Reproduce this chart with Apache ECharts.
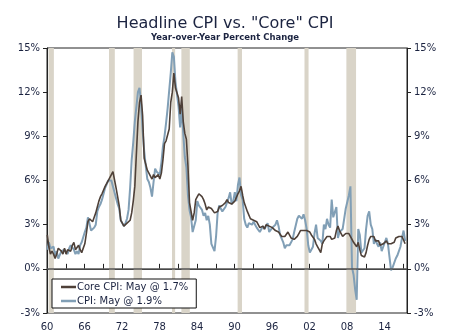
<!DOCTYPE html>
<html>
<head>
<meta charset="utf-8">
<script src="https://cdn.jsdelivr.net/npm/echarts@6/dist/echarts.min.js"></script>
<style>html,body{margin:0;padding:0;background:#fff}#c{width:450px;height:336px}</style>
</head>
<body>
<div id="c"></div>
<script>
// Quarterly year-over-year % change, starting 1960 Q1
const startYear = 1960;
const cpi = [
  1.3,1.8,1.4,1.4, 1.5,0.9,1.2,0.7, 0.7,1.2,1.2,1.3, 1.3,1.0,1.4,1.6, 1.6,1.3,1.0,1.2,
  1.0,1.6,1.8,1.9, 2.5,2.8,3.5,3.5, 2.6,2.7,2.8,3.0, 3.9,4.2,4.4,4.7, 4.8,5.5,5.6,6.0,
  6.1,6.0,5.6,5.6, 4.8,4.4,4.1,3.3, 3.4,2.9,3.1,3.4, 4.0,5.5,7.4,8.6, 10.0,11.0,12.0,12.3,
  11.2,9.4,8.0,7.0, 6.1,5.9,5.5,4.9, 5.9,6.8,6.6,6.7, 6.4,7.2,8.3,9.0, 9.9,10.9,12.1,13.3,
  14.7,14.4,12.7,12.6, 11.0,9.6,10.9,9.2, 7.6,6.9,5.0,4.0, 3.5,2.5,2.6,3.3, 4.6,4.3,4.2,4.0,
  3.6,3.8,3.3,3.6, 3.0,1.7,1.6,1.2, 2.2,3.8,4.3,4.4, 3.9,3.9,4.2,4.3, 4.8,5.2,4.4,4.6,
  5.2,4.6,5.7,6.2, 5.0,4.7,3.4,3.0, 2.8,3.1,3.0,3.0, 3.2,3.0,2.8,2.7, 2.5,2.4,2.9,2.7,
  2.9,3.1,2.5,2.6, 2.8,2.8,3.0,3.3, 2.9,2.3,2.2,1.8, 1.4,1.6,1.5,1.6, 1.7,2.0,2.5,2.6,
  3.4,3.6,3.5,3.4, 3.7,3.3,2.7,1.6, 1.1,1.2,1.5,2.4, 3.0,2.1,2.2,1.9, 1.7,3.0,2.7,3.4,
  3.0,2.8,4.7,3.5, 3.6,4.2,2.1,2.5, 2.4,2.7,2.8,4.1, 4.0,5.0,5.6,0.1, -0.4,-1.4,-2.1,2.7,
  2.3,1.1,1.1,1.4, 2.7,3.6,3.9,3.0, 2.7,1.7,2.0,1.7, 1.5,1.8,1.2,1.5, 1.5,2.1,1.7,0.8,
  -0.1,0.1,0.0,0.7, 0.9,1.0,1.5,2.1, 2.6,1.9
];
const core = [
  2.3,1.5,1.0,1.2, 1.0,0.7,1.0,1.4, 1.4,1.2,1.0,1.4, 1.0,1.3,1.4,1.2, 1.6,1.8,1.3,1.2,
  1.6,1.3,1.1,1.1, 1.7,2.4,3.2,3.4, 3.4,3.2,3.5,3.8, 4.2,4.6,4.9,5.1, 5.0,5.6,5.6,6.0,
  6.2,6.4,6.6,6.5, 5.5,4.9,4.3,3.3, 3.1,2.9,3.0,3.1, 3.0,3.3,3.8,4.6, 5.6,7.8,10.0,11.3,
  11.8,10.4,7.5,7.1, 6.7,6.5,6.4,6.1, 6.4,6.2,6.3,6.4, 6.1,6.5,7.4,8.5, 8.7,8.8,9.5,11.3,
  12.0,13.3,12.3,12.2, 11.6,10.5,11.7,10.0, 9.2,8.8,7.0,4.5, 4.6,3.3,3.8,4.7, 4.9,5.1,5.1,4.9,
  4.7,4.4,4.0,4.2, 4.1,4.1,4.0,3.8, 3.8,3.9,4.2,4.2, 4.3,4.4,4.5,4.7, 4.5,4.4,4.4,4.5,
  4.6,4.7,5.1,5.3, 5.6,5.0,4.5,4.4, 3.9,3.8,3.4,3.4, 3.3,3.4,3.2,3.1, 2.8,2.8,2.9,2.7,
  3.0,3.0,2.9,3.0, 2.8,2.7,2.6,2.6, 2.5,2.5,2.2,2.2, 2.2,2.2,2.5,2.4, 2.1,2.1,2.0,1.9,
  2.2,2.4,2.6,2.6, 2.6,2.7,2.6,2.7, 2.5,2.3,2.2,2.0, 1.7,1.5,1.3,1.1, 1.7,1.9,2.0,2.2,
  2.2,2.2,2.0,2.1, 2.1,2.6,2.9,2.6, 2.7,2.2,2.1,2.4, 2.3,2.4,2.5,2.0, 1.8,1.7,1.5,1.8,
  1.3,0.9,0.8,0.8, 1.1,1.6,2.0,2.2, 2.2,2.2,1.9,1.9, 1.9,1.6,1.7,1.7, 1.6,1.9,1.7,1.6,
  1.7,1.8,1.8,2.1, 2.2,2.2,2.2,2.2, 2.2,1.7
];
// NBER recessions (year fractions)
const recessions = [
  [1960.25,1961.1],[1969.92,1970.85],[1973.85,1975.2],[1980.0,1980.5],
  [1981.5,1982.85],[1990.5,1991.2],[2001.2,2001.85],[2007.9,2009.45]
];
const yTicks = [-3,0,3,6,9,12,15];
const xLabelYears = [1960,1966,1972,1978,1984,1990,1996,2002,2008,2014];
const coreName = 'Core CPI: May @ 1.7%';
const cpiName = 'CPI: May @ 1.9%';

const toPairs = arr => arr.map((v,i) => [startYear + i/4 + 0.05, v]);
const txt = '#1b2340';
const font = 'DejaVu Sans';

const chart = echarts.init(document.getElementById('c'), null, {renderer:'canvas'});
const yAxisBase = {
  type:'value', min:yTicks[0], max:yTicks[yTicks.length-1], interval:3,
  axisLine:{show:true, lineStyle:{color:'#222', width:1}},
  axisTick:{show:true, length:4, lineStyle:{color:'#222'}},
  splitLine:{show:false},
  axisLabel:{formatter: v => v + '%', color:txt, fontFamily:font, fontSize:10, margin:7}
};
chart.setOption({
  animation:false,
  title:{
    text:'Headline CPI vs. "Core" CPI',
    subtext:'Year-over-Year Percent Change',
    left:'center', top:11, itemGap:1,
    textStyle:{fontFamily:font, fontSize:16, fontWeight:'normal', color:txt},
    subtextStyle:{fontFamily:font, fontSize:8.5, fontWeight:'bold', color:txt}
  },
  grid:{left:47, right:43, top:48, bottom:23, show:true, borderColor:'#222', borderWidth:1},
  legend:{
    orient:'vertical', left:52, top:279,
    data:[
      {name:coreName, icon:'rect', itemStyle:{color:'#4e4038'}},
      {name:cpiName, icon:'rect', itemStyle:{color:'#819fb6'}}
    ],
    backgroundColor:'#fff', borderColor:'#111', borderWidth:1,
    padding:[3,8,2,9], itemGap:4, itemWidth:15, itemHeight:2.5,
    textStyle:{fontFamily:font, fontSize:10, color:txt, padding:[0,0,0,-4]}
  },
  xAxis:{
    type:'value', min:1960, max:2017.6, interval:3,
    axisLine:{show:true, lineStyle:{color:'#222'}},
    axisTick:{show:true, inside:true, length:5, lineStyle:{color:'#222'}},
    splitLine:{show:false},
    axisLabel:{
      color:txt, fontFamily:font, fontSize:10, margin:9, showMaxLabel:false,
      formatter: v => {
        const y = Math.round(v);
        if (Math.abs(v - y) > 1e-6 || xLabelYears.indexOf(y) < 0) return '';
        return String(y % 100).padStart(2,'0');
      }
    }
  },
  yAxis:[
    Object.assign({}, yAxisBase, {position:'left'}),
    Object.assign({}, yAxisBase, {position:'right'})
  ],
  series:[
    {
      name:'rec', type:'line', data:[], silent:true, z:1,
      markArea:{
        silent:true,
        itemStyle:{color:'#d9d4c8'},
        data: recessions.map(r => [{xAxis:r[0]},{xAxis:r[1]}])
      },
      markLine:{
        silent:true, symbol:'none', label:{show:false},
        lineStyle:{color:'#555', width:1.5, type:'solid'},
        data:[{yAxis:0}]
      }
    },
    {
      name:cpiName, type:'line', data:toPairs(cpi), showSymbol:false, symbol:'none',
      lineStyle:{color:'#819fb6', width:2}, itemStyle:{color:'#819fb6'}, z:3
    },
    {
      name:coreName, type:'line', data:toPairs(core), showSymbol:false, symbol:'none',
      lineStyle:{color:'#4e4038', width:1.6}, itemStyle:{color:'#4e4038'}, z:4
    }
  ]
});
</script>
</body>
</html>
